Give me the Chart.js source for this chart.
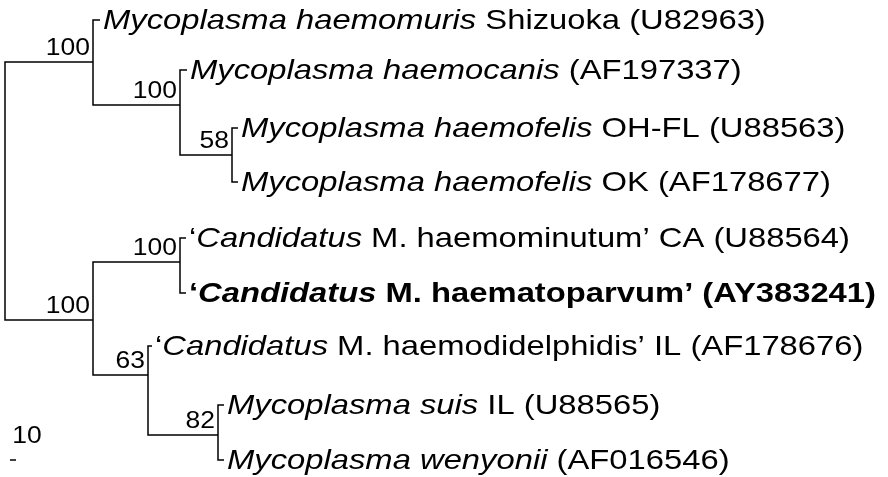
<!DOCTYPE html>
<html>
<head>
<meta charset="utf-8">
<script src="https://cdn.jsdelivr.net/npm/chart.js@4"></script>
<style>
  html, body { margin: 0; padding: 0; background: #fff; }
  #wrap { width: 888px; height: 477px; }
</style>
</head>
<body>
<div id="wrap"><canvas id="tree"></canvas></div>
<script>
// tree nodes: x = branch depth, y = vertical position (both in chart units)
const nodeX = [5, 93, 100, 180, 187, 232, 238, 238, 93, 180, 186, 186, 148, 152, 218, 224, 224];
const nodeY = [191, 62, 20, 105, 70, 155, 128, 182, 320, 262, 238, 293, 375, 346, 435, 405, 460];
const parents = [-1, 0, 1, 1, 3, 3, 5, 5, 0, 8, 9, 9, 8, 12, 12, 14, 14];

// bootstrap support per internal node
const supportNode = [1, 3, 5, 9, 8, 12, 14];
const supportText = ["100", "100", "58", "100", "100", "63", "82"];

// leaf labels: [text, italic, bold]
const leafNode = [2, 4, 6, 7, 10, 11, 13, 15, 16];
const leafLabels = [
  [["Mycoplasma haemomuris", 1, 0], [" Shizuoka (U82963)", 0, 0]],
  [["Mycoplasma haemocanis", 1, 0], [" (AF197337)", 0, 0]],
  [["Mycoplasma haemofelis", 1, 0], [" OH-FL (U88563)", 0, 0]],
  [["Mycoplasma haemofelis", 1, 0], [" OK (AF178677)", 0, 0]],
  [["\u2018", 0, 0], ["Candidatus", 1, 0], [" M. haemominutum\u2019 CA (U88564)", 0, 0]],
  [["\u2018", 0, 1], ["Candidatus", 1, 1], [" M. haematoparvum\u2019 (AY383241)", 0, 1]],
  [["\u2018", 0, 0], ["Candidatus", 1, 0], [" M. haemodidelphidis\u2019 IL (AF178676)", 0, 0]],
  [["Mycoplasma suis", 1, 0], [" IL (U88565)", 0, 0]],
  [["Mycoplasma wenyonii", 1, 0], [" (AF016546)", 0, 0]]
];

const scaleBar = { label: "10", x0: 10, x1: 16, y: 460 };

const datasets = [];
parents.forEach((p, i) => {
  if (p < 0) return;
  datasets.push({
    data: [
      { x: nodeX[p], y: nodeY[p] },
      { x: nodeX[p], y: nodeY[i] },
      { x: nodeX[i], y: nodeY[i] }
    ],
    showLine: true, borderColor: "#000", borderWidth: 1.5,
    pointRadius: 0, fill: false
  });
});
datasets.push({
  data: [{ x: scaleBar.x0, y: scaleBar.y }, { x: scaleBar.x1, y: scaleBar.y }],
  showLine: true, borderColor: "#000", borderWidth: 1.5, pointRadius: 0
});

const FONT = "Liberation Sans, Arial, sans-serif";
const SIZE = 28;
const HSCALE = 1.17;

// draw text stretched horizontally, anchored at px
function wideText(c, t, px, py, sc, align) {
  const w = c.measureText(t).width * sc;
  let left = px;
  if (align === "right") left = px - w;
  if (align === "center") left = px - w / 2;
  c.save();
  c.translate(left, py);
  c.scale(sc, 1);
  c.textAlign = "left";
  c.fillText(t, 0, 0);
  c.restore();
  return w;
}

const textPlugin = {
  id: "treeText",
  afterDatasetsDraw(chart) {
    const c = chart.ctx;
    const sx = chart.scales.x, sy = chart.scales.y;
    c.save();
    c.fillStyle = "#000";
    c.textBaseline = "middle";
    leafNode.forEach((n, k) => {
      let px = sx.getPixelForValue(nodeX[n]) + 3;
      const py = sy.getPixelForValue(nodeY[n]) + 1;
      leafLabels[k].forEach(([t, it, b]) => {
        c.font = (it ? "italic " : "") + (b ? "bold " : "") + SIZE + "px " + FONT;
        px += wideText(c, t, px, py, HSCALE);
      });
    });
    c.font = "23px " + FONT;
    c.textBaseline = "bottom";
    supportNode.forEach((n, k) => {
      wideText(c, supportText[k], sx.getPixelForValue(nodeX[n]) - 3, sy.getPixelForValue(nodeY[n]) - 2, 1.15, "right");
    });
    wideText(c, scaleBar.label, sx.getPixelForValue((scaleBar.x0 + scaleBar.x1) / 2) + 14, sy.getPixelForValue(scaleBar.y) - 12, 1.15, "center");
    c.restore();
  }
};

new Chart(document.getElementById("tree"), {
  type: "scatter",
  data: { datasets },
  options: {
    responsive: true,
    maintainAspectRatio: false,
    animation: false,
    layout: { padding: 0 },
    plugins: { legend: { display: false }, tooltip: { enabled: false } },
    scales: {
      x: { type: "linear", min: 0, max: 888, display: false },
      y: { type: "linear", min: 0, max: 477, reverse: true, display: false }
    }
  },
  plugins: [textPlugin]
});
</script>
</body>
</html>
